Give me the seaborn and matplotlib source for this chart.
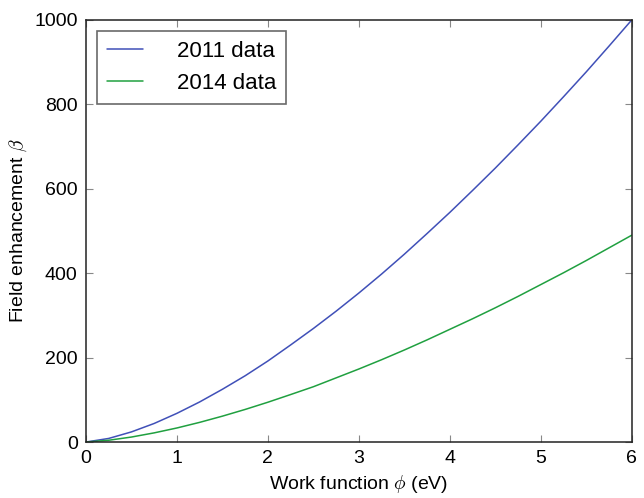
import numpy as np
import pandas as pd
import seaborn as sns
import matplotlib
matplotlib.use("Agg")
import matplotlib.pyplot as plt

phi = [0, 0.25, 0.5, 0.75, 1, 1.25, 1.5, 1.75, 2, 2.25, 2.5, 2.75, 3,
       3.25, 3.5, 3.75, 4, 4.25, 4.5, 4.75, 5, 5.25, 5.5, 5.75, 6]
beta_2011 = [0, 8.5, 24, 44, 68, 95, 125, 157, 192, 230, 269, 310, 353,
             398, 445, 494, 544, 596, 649, 704, 760, 818, 877, 938, 1000]
beta_2014 = [0, 4.2, 11.8, 21.7, 33.3, 46.6, 61.3, 77.2, 94.3, 112.5, 131, 152, 173,
             195, 218, 242, 267, 292, 318, 345, 373, 401, 430, 460, 490]
labels = ["2011 data", "2014 data"]

df = pd.DataFrame({
    "phi": phi * 2,
    "beta": beta_2011 + beta_2014,
    "series": [labels[0]] * len(phi) + [labels[1]] * len(phi),
})

sns.set_style("ticks")
plt.rcParams['font.family'] = ['Liberation Sans', 'DejaVu Sans']
plt.rcParams['mathtext.fontset'] = 'cm'
plt.rcParams['text.color'] = 'black'
plt.rcParams['axes.labelcolor'] = 'black'
plt.rcParams['xtick.color'] = 'black'
plt.rcParams['ytick.color'] = 'black'

fig = plt.figure(figsize=(6.44, 4.98), dpi=100)
ax = fig.add_axes([0.1335, 0.1124, 0.8475, 0.8476])
sns.lineplot(data=df, x="phi", y="beta", hue="series",
             palette=["#4050b8", "#20a040"], ax=ax, linewidth=1.1)

ax.set_xlim(0, 6)
ax.set_ylim(0, 1000)
ax.set_xticks([0, 1, 2, 3, 4, 5, 6])
ax.set_yticks([0, 200, 400, 600, 800, 1000])
ax.tick_params(direction="in", top=True, right=True, labelsize=14, length=5,
               color="#888888", labelcolor="black", pad=6)
for s in ax.spines.values():
    s.set_visible(True)
    s.set_color("#222222")
    s.set_linewidth(1.1)
ax.set_xlabel(r"Work function $\phi$ (eV)", fontsize=14)
ax.set_ylabel(r"Field enhancement $\beta$", fontsize=14)

leg = ax.legend(loc="upper left", fontsize=16, frameon=True, fancybox=False,
                handlelength=1.6, handletextpad=1.55, borderpad=0.45,
                borderaxespad=0.5)
leg.get_frame().set_edgecolor("#444444")
leg.get_frame().set_linewidth(1.2)
leg.set_title(None)

fig.savefig("out.png", dpi=100)
